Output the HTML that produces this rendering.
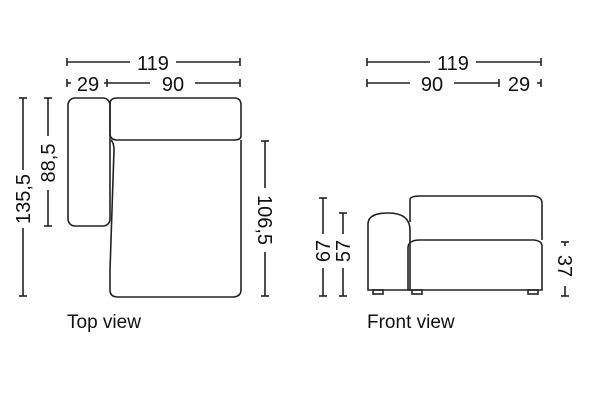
<!DOCTYPE html>
<html><head><meta charset="utf-8"><style>
html,body{margin:0;padding:0;background:#fff;width:600px;height:400px;overflow:hidden}
text{font-family:"Liberation Sans",sans-serif;fill:#111}
</style></head><body>
<svg width="600" height="400" viewBox="0 0 600 400" xmlns="http://www.w3.org/2000/svg">
<g stroke="#222" stroke-width="1.6" fill="none">
<line x1="67" y1="62" x2="130" y2="62"/><line x1="176" y1="62" x2="240" y2="62"/>
<line x1="67" y1="58" x2="67" y2="66"/><line x1="240" y1="58" x2="240" y2="66"/>
<line x1="67" y1="83" x2="71" y2="83"/><line x1="67" y1="79" x2="67" y2="87"/>
<line x1="104" y1="83" x2="150" y2="83"/><line x1="107" y1="79" x2="107" y2="87"/>
<line x1="195" y1="83" x2="240" y2="83"/><line x1="240" y1="79" x2="240" y2="87"/>
<line x1="23" y1="98" x2="23" y2="170"/><line x1="23" y1="228" x2="23" y2="296"/>
<line x1="19" y1="98" x2="27" y2="98"/><line x1="19" y1="296" x2="27" y2="296"/>
<line x1="48" y1="98" x2="48" y2="136"/><line x1="48" y1="190" x2="48" y2="226"/>
<line x1="44" y1="98" x2="52" y2="98"/><line x1="44" y1="226" x2="52" y2="226"/>
<line x1="265" y1="141" x2="265" y2="188"/><line x1="265" y1="252" x2="265" y2="296"/>
<line x1="261" y1="141" x2="269" y2="141"/><line x1="261" y1="296" x2="269" y2="296"/>
<rect x="68" y="98" width="42" height="128" rx="7"/>
<path d="M110 104 Q110 98 117 98 L234 98 Q241 98 241 105 L241 136 Q241 140 234 140 L116 140 Q110 139 110 134 Z"/>
<path d="M111 140 Q114 143 114 150 L110 270 L110 290 Q110 297 118 297 L234 297 Q241 296 241 290 L241 140"/>
<line x1="367" y1="62" x2="430" y2="62"/><line x1="476" y1="62" x2="541" y2="62"/>
<line x1="367" y1="58" x2="367" y2="66"/><line x1="541" y1="58" x2="541" y2="66"/>
<line x1="367" y1="83" x2="410" y2="83"/><line x1="367" y1="79" x2="367" y2="87"/>
<line x1="454" y1="83" x2="499" y2="83"/><line x1="499" y1="79" x2="499" y2="87"/>
<line x1="537" y1="83" x2="541" y2="83"/><line x1="541" y1="79" x2="541" y2="87"/>
<line x1="323" y1="198" x2="323" y2="234"/><line x1="323" y1="268" x2="323" y2="296"/>
<line x1="319" y1="198" x2="327" y2="198"/><line x1="319" y1="296" x2="327" y2="296"/>
<line x1="343" y1="213" x2="343" y2="234"/><line x1="343" y1="268" x2="343" y2="296"/>
<line x1="339" y1="213" x2="347" y2="213"/><line x1="339" y1="296" x2="347" y2="296"/>
<line x1="565" y1="242" x2="565" y2="246"/><line x1="565" y1="286" x2="565" y2="296"/>
<line x1="561" y1="242" x2="569" y2="242"/><line x1="561" y1="296" x2="569" y2="296"/>
<path d="M368 290 L368 224 Q368 213 388 213 Q410 213 410 230 L410 290 Z"/>
<path d="M410 222 L410 200 Q410 196 420 196 L534 196 Q542 197 542 203 L542 240"/>
<path d="M408 290 L408 248 Q408 240 420 240 L534 240 Q542 241 542 246 L542 290 Z"/>
<rect x="373" y="290" width="10" height="4"/><rect x="412" y="290" width="10" height="4"/><rect x="528" y="290" width="10" height="4"/>
</g>
<g font-size="20">
<text x="153" y="70" text-anchor="middle">119</text>
<text x="88" y="91" text-anchor="middle">29</text>
<text x="173" y="91" text-anchor="middle">90</text>
<text transform="translate(30,199) rotate(-90)" text-anchor="middle">135,5</text>
<text transform="translate(55,163) rotate(-90)" text-anchor="middle">88,5</text>
<text transform="translate(258,220) rotate(90)" text-anchor="middle">106,5</text>
<text x="453" y="70" text-anchor="middle">119</text>
<text x="432" y="91" text-anchor="middle">90</text>
<text x="519" y="91" text-anchor="middle">29</text>
<text transform="translate(330,251) rotate(-90)" text-anchor="middle">67</text>
<text transform="translate(350,251) rotate(-90)" text-anchor="middle">57</text>
<text transform="translate(558,266) rotate(90)" text-anchor="middle">37</text>
<text x="67" y="328" font-size="19">Top view</text>
<text x="367" y="328" font-size="19">Front view</text>
</g>
</svg>
</body></html>
